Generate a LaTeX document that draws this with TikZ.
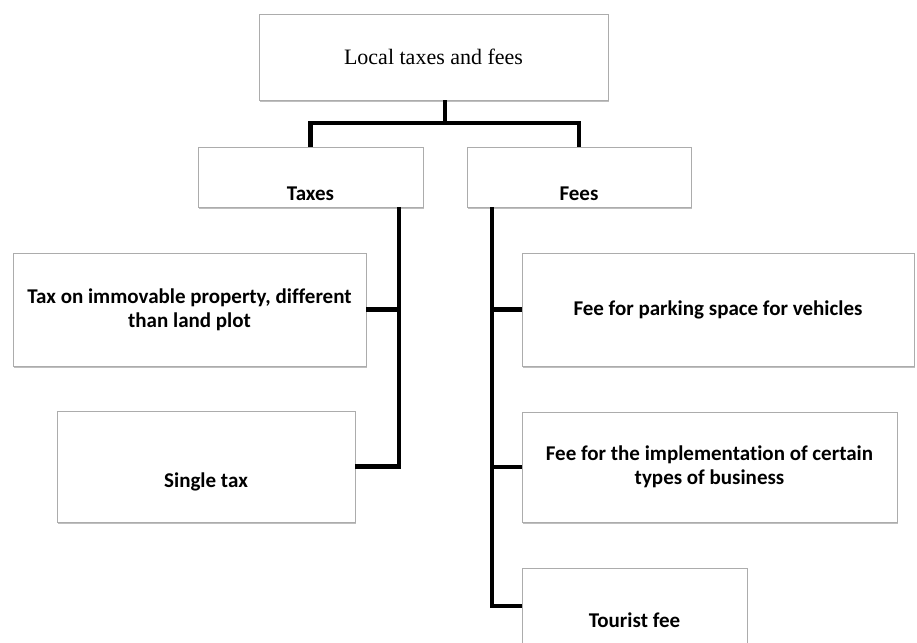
\documentclass[tikz,border=0pt]{standalone}
\usepackage{fontspec}
\setmainfont[Ligatures=NoCommon]{Carlito}
\newfontfamily\serifx{Liberation Serif}
\usetikzlibrary{shadows}
\begin{document}
\begin{tikzpicture}[x=1pt,y=-1pt,
  box/.style={draw=gray!65, line width=0.7pt, fill=white, inner sep=0pt,
    drop shadow={shadow xshift=1.2pt, shadow yshift=-1.8pt, fill=gray!50, opacity=1}},
  lbl/.style={font=\fontsize{21}{24}\selectfont\bfseries, align=center},
  conn/.style={line width=4.2pt, black, line cap=butt, line join=miter}]
\useasboundingbox (0,0) rectangle (917,642);
% boxes
\node[box, minimum width=349pt, minimum height=86pt, font=\serifx\fontsize{22}{25}\selectfont] (top) at (433.5,57) {Local taxes and fees};
\node[box, minimum width=225pt, minimum height=60pt] (taxes) at (310.5,177) {};
\node[lbl] at (310.5,194) {Taxes};
\node[box, minimum width=224pt, minimum height=60pt] (fees) at (579,177) {};
\node[lbl] at (579,194) {Fees};
\node[box, lbl, minimum width=353pt, minimum height=113pt] (immov) at (189.5,309.5) {Tax on immovable property, different\\than land plot};
\node[box, minimum width=298pt, minimum height=111pt] (single) at (206,466.5) {};
\node[lbl] at (206,482) {Single tax};
\node[box, lbl, minimum width=392pt, minimum height=113pt] (parking) at (718,309.5) {Fee for parking space for vehicles};
\node[box, lbl, minimum width=375pt, minimum height=110pt] (impl) at (709.5,467) {Fee for the implementation of certain\\types of business};
\node[box, minimum width=225pt, minimum height=92pt] (tourist) at (634.5,614) {};
\node[lbl] at (634.5,620) {Tourist fee};
% connectors
\coordinate (j1) at (445,123);
\coordinate (tb) at ([xshift=88.5pt]taxes.south);
\coordinate (fb) at ([xshift=-87pt]fees.south);
\draw[conn] (top.south -| j1) -- (j1);
\draw[conn] (taxes.north) |- (j1) -| (fees.north);
\draw[conn] (tb) |- (single.east);
\draw[conn] (immov.east) -- (immov.east -| tb);
\draw[conn] (fb) |- ([yshift=8pt]tourist.west);
\draw[conn] (parking.west -| fb) -- (parking.west);
\draw[conn] (impl.west -| fb) -- (impl.west);
\end{tikzpicture}
\end{document}
